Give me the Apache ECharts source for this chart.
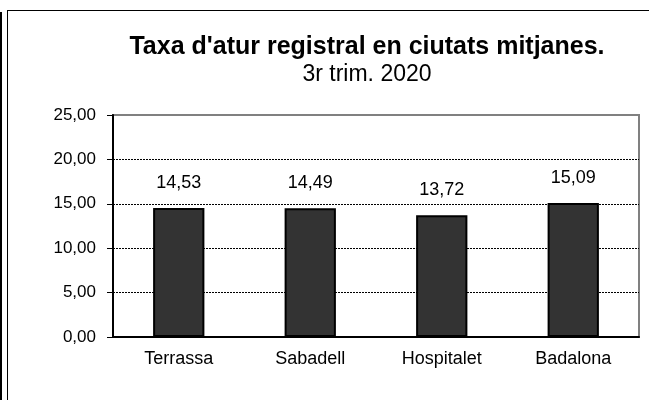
<!DOCTYPE html>
<html>
<head>
<meta charset="utf-8">
<script src="https://cdn.jsdelivr.net/npm/echarts@6/dist/echarts.min.js"></script>
<style>
  html, body { margin: 0; padding: 0; background: #fff; }
  #chart { width: 649px; height: 400px; }
</style>
</head>
<body>
<div id="chart"></div>
<script>
// dades
var ciutats = ['Terrassa', 'Sabadell', 'Hospitalet', 'Badalona']
var taxa = [14.53, 14.49, 13.72, 15.09]
var titol = "Taxa d'atur registral en ciutats mitjanes."
var subtitol = '3r trim. 2020'

function coma(v, dec) {
  return Number(v).toFixed(dec).replace('.', ',')
}

var chart = echarts.init(document.getElementById('chart'))
var font = 'Liberation Sans, Arial, sans-serif'

chart.setOption({
  animation: false,
  title: {
    text: titol,
    subtext: subtitol,
    left: 362,
    top: 30,
    textAlign: 'center',
    itemGap: 3,
    textStyle: { fontFamily: font, fontSize: 25, fontWeight: 'bold', color: '#000' },
    subtextStyle: { fontFamily: font, fontSize: 23, color: '#000' }
  },
  grid: { // area del grafic
    left: 113,
    top: 115,
    right: 10,
    bottom: 63,
    show: true,
    borderColor: '#808080',
    borderWidth: 2,
    containLabel: false
  },
  xAxis: {
    type: 'category',
    data: ciutats,
    axisLine: { lineStyle: { color: '#000', width: 2 } },
    axisTick: { length: 5, lineStyle: { color: '#000', width: 2 } },
    axisLabel: { fontFamily: font, fontSize: 18, color: '#000', margin: 13 }
  },
  yAxis: {
    type: 'value',
    min: 0,
    max: 25,
    interval: 5,
    axisLine: { show: true, lineStyle: { color: '#000', width: 2 } },
    axisTick: { show: true, length: 6, lineStyle: { color: '#000', width: 1 } },
    axisLabel: {
      fontFamily: font, fontSize: 17, color: '#000', margin: 17,
      formatter: function(v) { return coma(v, 2) }
    },
    splitLine: { // linies discontinues
      show: true,
      lineStyle: {
        color: ['transparent', '#000', '#000', '#000', '#000', 'transparent'],
        type: [2, 1],
        width: 1
      }
    }
  },
  series: [{
    type: 'bar',
    data: taxa,
    barWidth: '39%',
    itemStyle: { color: '#333333', borderColor: '#000', borderWidth: 2 },
    label: {
      show: true,
      position: 'top',
      distance: 16,
      fontFamily: font,
      fontSize: 18,
      color: '#000',
      formatter: function(p) { return coma(p.value, 2) }
    }
  }],
  graphic: [ // marc exterior
    { type: 'line', shape: { x1: 7.5, y1: 10, x2: 7.5, y2: 400 }, style: { stroke: '#000', lineWidth: 1 } },
    { type: 'line', shape: { x1: 7, y1: 10.5, x2: 649, y2: 10.5 }, style: { stroke: '#000', lineWidth: 1 } },
    { type: 'line', shape: { x1: 1, y1: 12, x2: 1, y2: 400 }, style: { stroke: '#000', lineWidth: 2 } }
  ]
})
</script>
</body>
</html>
